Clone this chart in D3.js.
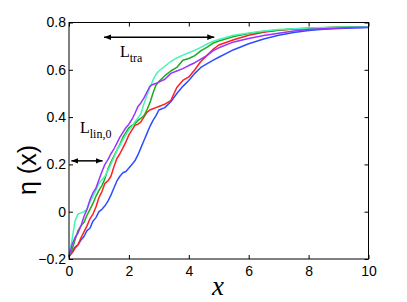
<!DOCTYPE html>
<html><head><meta charset="utf-8">
<script src="https://cdn.jsdelivr.net/npm/d3@7"></script>
<style>body{margin:0;background:#fff}svg{display:block}</style>
</head><body>
<svg id="c" width="407" height="302"></svg>
<script>
const xGrid = [0,0.1,0.2,0.3,0.4,0.5,0.6,0.7,0.8,0.9,1.0,1.1,1.2,1.3,1.4,1.5,1.6,1.7,1.8,1.9,2.0,2.1,2.2,2.3,2.4,2.5,2.6,2.7,2.8,2.9,3.0,3.2,3.4,3.6,3.8,4.0,4.2,4.4,4.6,4.8,5.0,5.5,6.0,6.5,7.0,7.5,8.0,8.5,9.0,9.5,10];
const blueVals = [-0.19,-0.17,-0.15,-0.14,-0.12,-0.105,-0.08,-0.07,-0.04,-0.025,0.0,0.01,0.025,0.045,0.07,0.1,0.13,0.15,0.165,0.17,0.185,0.2,0.215,0.24,0.27,0.3,0.33,0.36,0.385,0.405,0.43,0.44,0.465,0.5,0.53,0.555,0.585,0.61,0.625,0.64,0.653,0.685,0.71,0.73,0.746,0.758,0.766,0.771,0.775,0.777,0.779];
const redVals = [-0.19,-0.175,-0.155,-0.14,-0.11,-0.085,-0.06,-0.03,-0.01,0.02,0.06,0.085,0.12,0.13,0.15,0.19,0.225,0.245,0.27,0.295,0.325,0.345,0.365,0.37,0.38,0.4,0.42,0.43,0.435,0.44,0.445,0.455,0.47,0.525,0.555,0.57,0.6,0.635,0.66,0.685,0.705,0.727,0.746,0.759,0.767,0.772,0.775,0.778,0.78,0.781,0.782];
const greenVals = [-0.19,-0.16,-0.12,-0.08,-0.06,-0.045,-0.015,0.01,0.035,0.065,0.09,0.11,0.14,0.18,0.21,0.235,0.26,0.285,0.315,0.335,0.355,0.365,0.372,0.385,0.395,0.405,0.43,0.46,0.5,0.535,0.55,0.575,0.595,0.61,0.64,0.648,0.66,0.68,0.695,0.712,0.722,0.741,0.753,0.762,0.768,0.773,0.776,0.778,0.78,0.781,0.782];
const cyanVals = [-0.19,-0.12,-0.04,-0.01,-0.005,0.0,0.01,0.04,0.065,0.09,0.12,0.135,0.15,0.175,0.2,0.23,0.26,0.28,0.305,0.325,0.345,0.36,0.38,0.395,0.415,0.455,0.49,0.525,0.555,0.58,0.595,0.615,0.635,0.65,0.662,0.672,0.682,0.695,0.708,0.72,0.728,0.746,0.756,0.764,0.77,0.774,0.777,0.779,0.78,0.781,0.782];
const purpleVals = [-0.19,-0.14,-0.11,-0.09,-0.06,-0.02,0.01,0.05,0.08,0.1,0.135,0.17,0.2,0.22,0.245,0.265,0.29,0.315,0.335,0.355,0.37,0.39,0.415,0.445,0.46,0.48,0.505,0.53,0.538,0.542,0.548,0.56,0.585,0.595,0.605,0.618,0.63,0.645,0.66,0.68,0.693,0.718,0.732,0.745,0.755,0.764,0.77,0.774,0.777,0.779,0.78];
const seriesNames = ["blue","red","green","cyan","purple"];
const seriesColors = ["#2d4dff","#ff1f1f","#1faa1f","#45f5b5","#9933ff"];
const seriesValues = [blueVals, redVals, greenVals, cyanVals, purpleVals];
const xTicks = [0,2,4,6,8,10];
const xTickLabels = ["0","2","4","6","8","10"];
const yTicks = [-0.2,0,0.2,0.4,0.6,0.8];
const yTickLabels = ["\u22120.2","0","0.2","0.4","0.6","0.8"];

const svg = d3.select("#c");
svg.append("rect").attr("width",407).attr("height",302).attr("fill","#fff");
const L=69, R=368.5, T=22.5, B=259;
const x = d3.scaleLinear().domain([0,10]).range([L,R]);
const y = d3.scaleLinear().domain([-0.2,0.8]).range([B,T]);

const line = d3.line().x((d,i)=>x(xGrid[i])).y(d=>y(d));
seriesValues.forEach((vals,k)=>{
  svg.append("path").attr("d",line(vals)).attr("fill","none")
    .attr("stroke",seriesColors[k]).attr("stroke-width",1.5).attr("stroke-linejoin","round");
});

const font = "'Liberation Sans', Arial, Helvetica, sans-serif";
function styleAxis(g){ g.select(".domain").remove(); g.selectAll("line").attr("stroke","#000"); g.selectAll("text").attr("font-family",font).attr("font-size",14).attr("fill","#000"); }
svg.append("g").attr("transform",`translate(${L},0)`)
  .call(d3.axisLeft(y).tickValues(yTicks).tickFormat((d,i)=>yTickLabels[i]).tickSizeInner(-4).tickSizeOuter(0).tickPadding(3)).call(styleAxis);
svg.append("g").attr("transform",`translate(${R},0)`)
  .call(d3.axisRight(y).tickValues(yTicks).tickFormat("").tickSizeInner(-4).tickSizeOuter(0)).call(styleAxis);
svg.append("g").attr("transform",`translate(0,${B})`)
  .call(d3.axisBottom(x).tickValues(xTicks).tickFormat((d,i)=>xTickLabels[i]).tickSizeInner(-4).tickSizeOuter(0).tickPadding(7)).call(styleAxis);
svg.append("g").attr("transform",`translate(0,${T})`)
  .call(d3.axisTop(x).tickValues(xTicks).tickFormat("").tickSizeInner(-4).tickSizeOuter(0)).call(styleAxis);
svg.append("rect").attr("x",L).attr("y",T).attr("width",R-L).attr("height",B-T)
  .attr("fill","none").attr("stroke","#000").attr("stroke-width",1);

// arrows
const defs = svg.append("defs");
["s","e"].forEach(id=>{
  defs.append("marker").attr("id","ar"+id).attr("viewBox","0 0 10 10").attr("refX",10).attr("refY",5)
    .attr("markerWidth",7).attr("markerHeight",7).attr("markerUnits","userSpaceOnUse").attr("orient","auto-start-reverse")
    .append("path").attr("d","M0,1 L10,5 L0,9 Z").attr("fill","#000");
});
function arrow(x0,x1,yv){
  svg.append("line").attr("x1",x(x0)).attr("x2",x(x1)).attr("y1",y(yv)).attr("y2",y(yv))
    .attr("stroke","#000").attr("stroke-width",1.5).attr("marker-start","url(#ars)").attr("marker-end","url(#are)");
}
arrow(1.17,4.85,0.738);
arrow(0.08,1.12,0.215);

const serif = "'Liberation Serif','Times New Roman',serif";
const t1 = svg.append("text").attr("x",120).attr("y",57).attr("font-family",serif).attr("font-size",16);
t1.append("tspan").text("L");
t1.append("tspan").attr("font-size",12).attr("dy",5).text("tra");
const t2 = svg.append("text").attr("x",80).attr("y",133).attr("font-family",serif).attr("font-size",16);
t2.append("tspan").text("L");
t2.append("tspan").attr("font-size",12).attr("dy",5).text("lin,0");

svg.append("text").attr("x",218).attr("y",295).attr("text-anchor","middle")
  .attr("font-family",serif).attr("font-style","italic").attr("font-size",27).text("x");
svg.append("text").attr("transform","translate(36,170) rotate(-90)").attr("text-anchor","middle")
  .attr("font-family",font).attr("font-size",25).text("\u03b7 (x)");
</script>
</body></html>
